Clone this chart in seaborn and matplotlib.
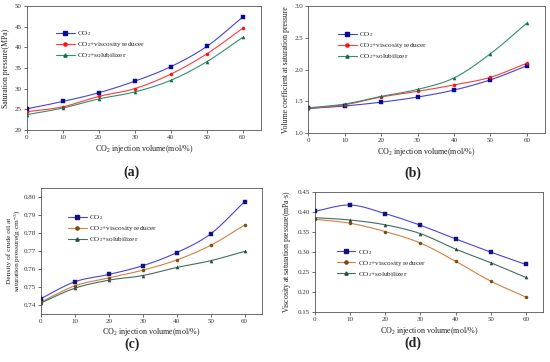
import numpy as np
import pandas as pd
import matplotlib
matplotlib.use("Agg")
import matplotlib.pyplot as plt
import seaborn as sns
from matplotlib.lines import Line2D

sns.set_style("ticks")
plt.rcParams['font.family'] = ['Liberation Serif', 'DejaVu Serif']
plt.rcParams['mathtext.fontset'] = 'custom'
plt.rcParams['mathtext.rm'] = 'Liberation Serif'
plt.rcParams['mathtext.it'] = 'Liberation Serif:italic'

# ---------------- data ----------------
injection = [0, 10, 20, 30, 40, 50, 60]
series_labels = ["CO$_2$", "CO$_2$+viscosity reducer", "CO$_2$+solubilizer"]

sat_co2 = [25.1, 26.9, 29.0, 31.8, 35.3, 40.2, 47.3]
sat_visc = [24.4, 25.6, 28.1, 30.0, 33.5, 38.4, 44.6]
sat_solu = [23.7, 25.3, 27.5, 29.2, 32.0, 36.5, 42.4]

vol_co2 = [1.39, 1.43, 1.49, 1.57, 1.68, 1.84, 2.06]
vol_visc = [1.39, 1.45, 1.57, 1.66, 1.76, 1.88, 2.10]
vol_solu = [1.40, 1.46, 1.58, 1.69, 1.87, 2.25, 2.73]

den_co2 = [0.7434, 0.7528, 0.7569, 0.7618, 0.7691, 0.7796, 0.7976]
den_visc = [0.7415, 0.7505, 0.7550, 0.7593, 0.7650, 0.7732, 0.7845]
den_solu = [0.7410, 0.7492, 0.7537, 0.7563, 0.7608, 0.7646, 0.7698]

vis_co2 = [0.402, 0.4175, 0.396, 0.367, 0.333, 0.300, 0.269]
vis_visc = [0.382, 0.372, 0.351, 0.3225, 0.277, 0.2275, 0.1875]
vis_solu = [0.386, 0.380, 0.368, 0.346, 0.3075, 0.2733, 0.2367]

# ---------------- helpers ----------------
def smooth(x, y, n=20):
    """Catmull-Rom curve through the data points (for drawing only)."""
    x = np.asarray(x, float); y = np.asarray(y, float)
    px = np.concatenate([[2 * x[0] - x[1]], x, [2 * x[-1] - x[-2]]])
    py = np.concatenate([[2 * y[0] - y[1]], y, [2 * y[-1] - y[-2]]])
    xs, ys = [], []
    t = np.linspace(0, 1, n, endpoint=False)
    for i in range(1, len(px) - 2):
        p0, p1, p2, p3 = py[i - 1], py[i], py[i + 1], py[i + 2]
        q0, q1, q2, q3 = px[i - 1], px[i], px[i + 1], px[i + 2]
        f = lambda a0, a1, a2, a3: 0.5 * ((2 * a1) + (-a0 + a2) * t +
                                          (2 * a0 - 5 * a1 + 4 * a2 - a3) * t ** 2 +
                                          (-a0 + 3 * a1 - 3 * a2 + a3) * t ** 3)
        xs.append(f(q0, q1, q2, q3)); ys.append(f(p0, p1, p2, p3))
    xs.append([x[-1]]); ys.append([y[-1]])
    return np.concatenate(xs), np.concatenate(ys)

markers = ['s', 'o', '^']
style_top = dict(line=['#4545cc', '#ff3b3b', '#2f9070'], mark=['#0a0a9a', '#ff1010', '#0b6f45'])
style_bot = dict(line=['#4a44d8', '#d48040', '#3f6e62'], mark=['#12127f', '#7a4a10', '#2a4a42'])

fig = plt.figure(figsize=(5.5, 3.62), dpi=100)
fig.patch.set_facecolor('white')

panels = [
    dict(pos=[0.0485, 0.641, 0.4255, 0.3425], data=[sat_co2, sat_visc, sat_solu],
         ylim=(20, 50), yticks=[20, 25, 30, 35, 40, 45, 50], yfmt='{:.0f}',
         ylabel='Saturation pressure(MPa)', ylx=-0.07, st=style_top, leg=(0.125, 0.81),
         letter='(a)', lpos=(0.24, 0.525), lfs=5.6),
    dict(pos=[0.5606, 0.6317, 0.4303, 0.3517], data=[vol_co2, vol_visc, vol_solu],
         ylim=(1.0, 3.0), yticks=[1.0, 1.5, 2.0, 2.5, 3.0], yfmt='{:.1f}',
         ylabel='Volume coefficient at saturation pressure', ylx=-0.077, st=style_top,
         leg=(0.125, 0.81), letter='(b)', lpos=(0.751, 0.522), lfs=5.6),
    dict(pos=[0.074, 0.1334, 0.4018, 0.3464], data=[den_co2, den_visc, den_solu],
         ylim=(0.735, 0.805), yticks=[0.74, 0.75, 0.76, 0.77, 0.78, 0.79, 0.80], yfmt='{:.2f}',
         ylabel='Density of crude oil at\nsaturation pressure(g$\\cdot$cm$^{-3}$)', ylx=-0.085,
         st=style_bot, leg=(0.124, 0.80), letter='(c)', lpos=(0.24, 0.050), lfs=5.3),
    dict(pos=[0.5727, 0.1380, 0.4152, 0.3315], data=[vis_co2, vis_visc, vis_solu],
         ylim=(0.15, 0.45), yticks=[0.15, 0.20, 0.25, 0.30, 0.35, 0.40, 0.45], yfmt='{:.2f}',
         ylabel='Viscosity at saturation pressure(mPa$\\cdot$s)', ylx=-0.096, st=style_bot,
         leg=(0.095, 0.535), letter='(d)', lpos=(0.751, 0.052), lfs=5.6),
]

for p in panels:
    ax = fig.add_axes(p['pos'])
    handles = []
    for i, ys in enumerate(p['data']):
        sx, sy = smooth(injection, ys)
        sns.lineplot(x=sx, y=sy, ax=ax, color=p['st']['line'][i], linewidth=0.8,
                     sort=False, estimator=None, legend=False)
        sns.scatterplot(x=injection, y=ys, ax=ax, marker=markers[i], s=5,
                        color=p['st']['mark'][i], edgecolor=p['st']['mark'][i],
                        linewidth=0.3, legend=False, zorder=3)
        handles.append(Line2D([], [], color=p['st']['line'][i], linewidth=0.8,
                              marker=markers[i], markersize=2.3,
                              markerfacecolor=p['st']['mark'][i],
                              markeredgecolor=p['st']['mark'][i]))
    ax.set_xlim(0, 65)
    ax.set_ylim(*p['ylim'])
    ax.set_xticks(injection)
    ax.set_xticklabels([str(v) for v in injection])
    ax.set_yticks(p['yticks'])
    ax.set_yticklabels([p['yfmt'].format(v) for v in p['yticks']])
    ax.tick_params(axis='both', labelsize=5.0, length=2, width=0.5, pad=1.5,
                   colors='#333333', direction='out')
    for s in ax.spines.values():
        s.set_visible(True)
        s.set_linewidth(0.6)
        s.set_color('#555555')
    ax.set_xlabel('CO$_2$ injection volume(mol/%)', fontsize=5.8, labelpad=2, color='#222222')
    ax.set_ylabel(p['ylabel'], fontsize=p['lfs'], color='#222222', linespacing=1.0)
    ax.yaxis.set_label_coords(p['ylx'], 0.5)
    ax.legend(handles, series_labels, loc='upper left', bbox_to_anchor=p['leg'],
              frameon=False, fontsize=5.2, handlelength=2.6, handletextpad=0.3,
              labelspacing=0.28, borderaxespad=0, borderpad=0)
    fig.text(p['lpos'][0], p['lpos'][1], p['letter'], ha='center', va='center',
             fontsize=10, fontweight='bold')

fig.savefig('out.png', dpi=100, facecolor='white')
